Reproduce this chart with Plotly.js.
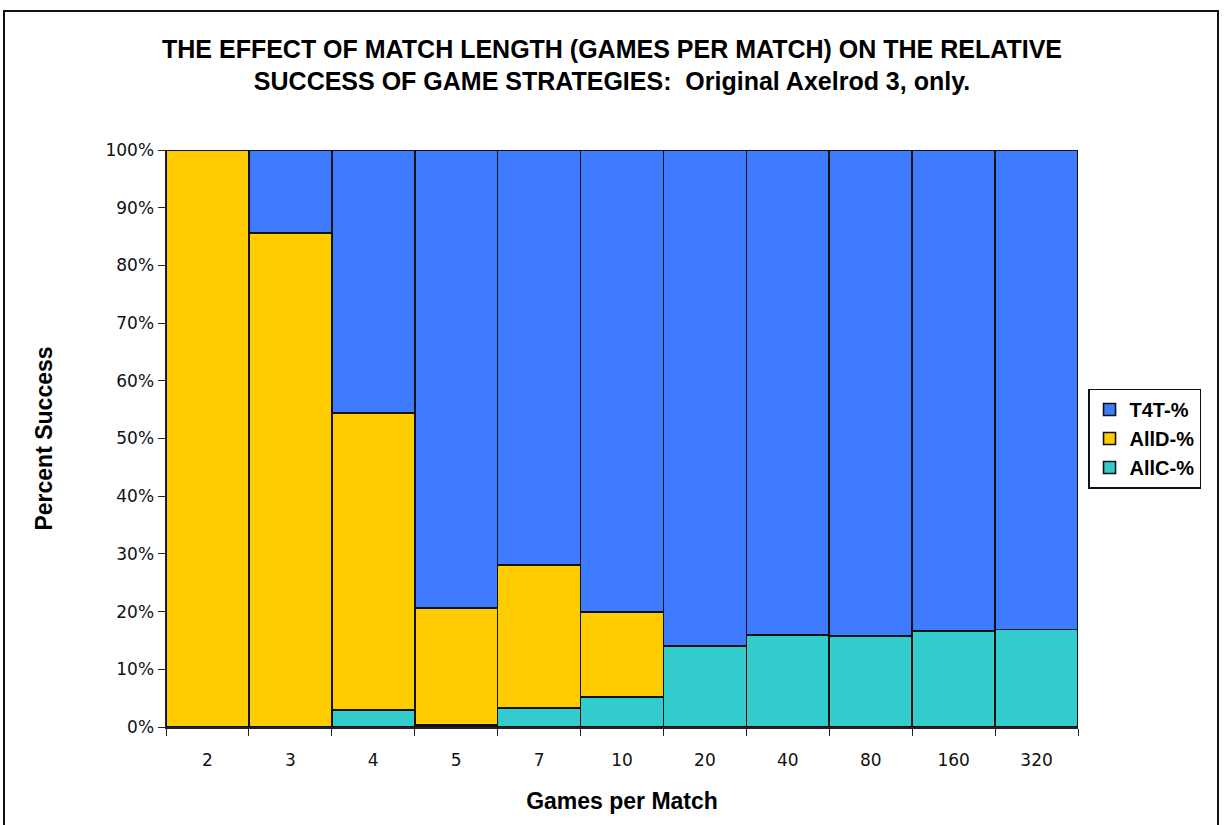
<!DOCTYPE html>
<html>
<head>
<meta charset="utf-8">
<script src="https://cdn.plot.ly/plotly-3.0.1.min.js"></script>
<style>
  html, body { margin: 0; padding: 0; background: #ffffff; }
  #wrap { position: relative; width: 1224px; height: 825px; overflow: hidden; }
  #chart { position: absolute; left: 0; top: 0; width: 1224px; height: 825px; }
  #frame { position: absolute; left: 3px; top: 10px; width: 1216px; height: 830px;
           border: 2px solid #111; pointer-events: none; box-sizing: border-box; }
</style>
</head>
<body>
<div id="wrap">
  <div id="chart"></div>
  <div id="frame"></div>
</div>
<script>
// Games per match (category labels)
const gamesPerMatch = ['2', '3', '4', '5', '7', '10', '20', '40', '80', '160', '320'];

// Share of successful strategies per match length, in percent
const allcPct = [0, 0, 2.9, 0.3, 3.3, 5.2, 14.0, 15.9, 15.8, 16.6, 16.9];
const alldPct = [100, 85.6, 51.5, 20.3, 24.8, 14.7, 0, 0, 0, 0, 0];
const t4tPct  = [0, 14.4, 45.6, 79.4, 71.9, 80.1, 86.0, 84.1, 84.2, 83.4, 83.1];

const seriesNames = ['AllC-%', 'AllD-%', 'T4T-%'];
const seriesColors = ['#33CCCC', '#FFCC00', '#3F7BFF'];

const outline = { color: '#111111', width: 1.6 };

const traces = [allcPct, alldPct, t4tPct].map((vals, i) => ({
  type: 'bar',
  x: gamesPerMatch,
  y: vals,
  name: '<b>' + seriesNames[i] + '</b>',
  marker: { color: seriesColors[i], line: outline },
  hoverinfo: 'x+y+name'
}));

const boldFont = 'Liberation Sans, Arial, sans-serif';
const tickFont = 'DejaVu Sans, Verdana, sans-serif';

const layout = {
  width: 1224,
  height: 825,
  paper_bgcolor: '#ffffff',
  plot_bgcolor: '#ffffff',
  barmode: 'stack',
  bargap: 0,
  margin: { l: 166, r: 146, t: 150, b: 98 },
  font: { family: boldFont, color: '#111111' },
  title: {
    text: '<b>THE EFFECT OF MATCH LENGTH (GAMES PER MATCH) ON THE RELATIVE<br>SUCCESS OF GAME STRATEGIES:  Original Axelrod 3, only.</b>',
    font: { family: boldFont, size: 25, color: '#000000' },
    x: 0.5, xref: 'container', xanchor: 'center',
    y: 0.93, yref: 'container', yanchor: 'top'
  },
  xaxis: {
    type: 'category',
    tickson: 'boundaries',
    ticks: 'outside',
    ticklen: 7,
    tickcolor: '#222222',
    showline: true,
    linecolor: '#222222',
    linewidth: 1.5,
    showgrid: false,
    ticklabelstandoff: 17,
    tickfont: { family: tickFont, size: 17, color: '#111111' },
    title: {
      text: '<b>Games per Match</b>',
      font: { family: boldFont, size: 23, color: '#000000' },
      standoff: 24
    }
  },
  yaxis: {
    range: [0, 100],
    dtick: 10,
    ticksuffix: '%',
    ticks: 'outside',
    ticklen: 7,
    tickcolor: '#222222',
    showline: true,
    linecolor: '#222222',
    linewidth: 1.5,
    showgrid: false,
    zeroline: false,
    tickfont: { family: tickFont, size: 17, color: '#111111' },
    title: {
      text: '<b>Percent Success</b>',
      font: { family: boldFont, size: 23, color: '#000000' },
      standoff: 46
    }
  },
  legend: {
    traceorder: 'reversed',
    x: 1.011, xanchor: 'left',
    y: 0.50, yanchor: 'middle',
    bordercolor: '#111111',
    borderwidth: 1.5,
    bgcolor: '#ffffff',
    font: { family: boldFont, size: 20, color: '#000000' },
    itemwidth: 30
  },
  showlegend: true
};

Plotly.newPlot('chart', traces, layout, { displayModeBar: false, staticPlot: true });
</script>
</body>
</html>
